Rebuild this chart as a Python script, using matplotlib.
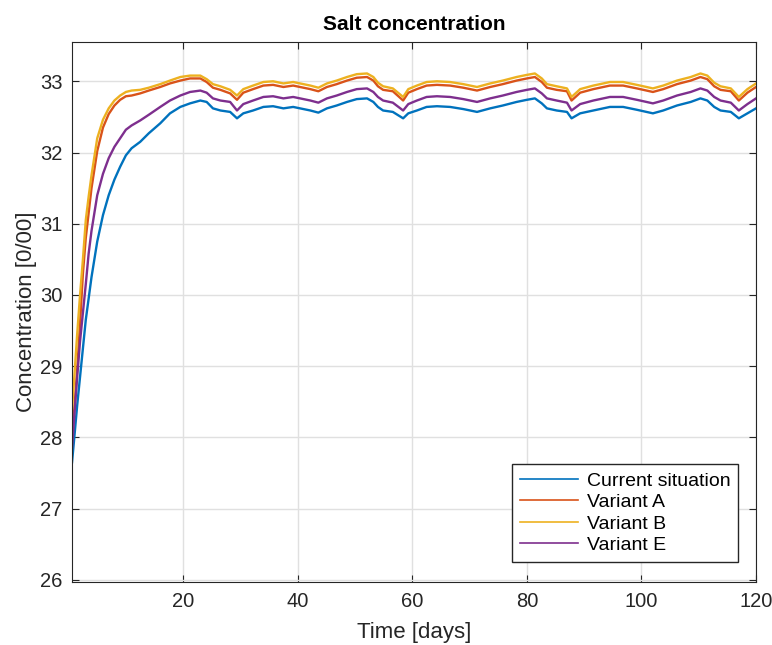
import matplotlib
matplotlib.use("Agg")
import matplotlib.pyplot as plt

# time axis [days]
days = [0.6, 1, 1.5, 2, 2.5, 3, 3.5, 4, 5, 6, 7, 8, 9, 10, 11,
        12.5, 14, 16, 17.7, 19.5, 21.2, 23, 24.1, 25.2, 26.5, 28.2, 29.4,
        30.5, 32.2, 34, 35.7, 37.5, 39.2, 40.4, 42.2, 43.6, 45.1, 46.8, 48.6,
        50.3, 52.1, 53.2, 54, 54.9, 56.6, 58.4, 59.3, 60.8, 62.5, 64.3, 66.6,
        68.9, 71.3, 73.6, 75.8, 78.2, 80, 81.4, 82.6, 83.5, 85.2, 87, 87.8,
        89.3, 91.6, 94.5, 96.8, 99.2, 102, 103.8, 106.2, 108.6, 110.3, 111.5,
        112.7, 113.8, 115.6, 117, 118.5, 120]

# salt concentration [0/00]
current = [27.65, 28.0, 28.45, 28.85, 29.25, 29.65, 29.95, 30.25, 30.75, 31.12,
           31.4, 31.62, 31.8, 31.96, 32.06, 32.15, 32.27, 32.41, 32.55, 32.64,
           32.69, 32.73, 32.71, 32.62, 32.59, 32.57, 32.48,
           32.55, 32.59, 32.64, 32.65, 32.62, 32.64, 32.62, 32.59, 32.56, 32.62,
           32.66, 32.71, 32.75, 32.76, 32.71, 32.64, 32.59, 32.57, 32.48, 32.55,
           32.59, 32.64, 32.65, 32.64, 32.61, 32.57, 32.62, 32.66, 32.71, 32.74,
           32.76, 32.69, 32.62, 32.59, 32.57, 32.48, 32.55, 32.59, 32.64, 32.64,
           32.60, 32.55, 32.59, 32.66, 32.71, 32.76, 32.73, 32.64, 32.59, 32.57,
           32.48, 32.55, 32.62]
variant_a = [28.1, 28.4, 28.95, 29.6, 30.3, 30.8, 31.15, 31.5, 32.02, 32.35,
             32.54, 32.66, 32.74, 32.79, 32.8, 32.83, 32.87, 32.92, 32.97, 33.01,
             33.04, 33.04, 32.99, 32.91, 32.88, 32.83, 32.74,
             32.84, 32.89, 32.94, 32.95, 32.92, 32.94, 32.92, 32.89, 32.86, 32.92,
             32.96, 33.01, 33.05, 33.06, 33.01, 32.93, 32.88, 32.86, 32.73, 32.84,
             32.89, 32.94, 32.95, 32.94, 32.91, 32.87, 32.92, 32.96, 33.01, 33.04,
             33.06, 32.99, 32.91, 32.88, 32.86, 32.73, 32.84, 32.89, 32.94, 32.94,
             32.90, 32.85, 32.89, 32.96, 33.01, 33.06, 33.03, 32.93, 32.88, 32.86,
             32.73, 32.84, 32.92]
variant_b = [28.4, 28.85, 29.45, 30.0, 30.5, 31.05, 31.38, 31.68, 32.2, 32.46,
             32.62, 32.73, 32.8, 32.85, 32.87, 32.88, 32.91, 32.96, 33.01, 33.06,
             33.08, 33.08, 33.03, 32.96, 32.93, 32.88, 32.8,
             32.89, 32.94, 32.99, 33.00, 32.97, 32.99, 32.97, 32.94, 32.91, 32.97,
             33.01, 33.06, 33.10, 33.11, 33.06, 32.98, 32.93, 32.90, 32.78, 32.89,
             32.94, 32.99, 33.00, 32.99, 32.96, 32.92, 32.97, 33.01, 33.06, 33.09,
             33.11, 33.04, 32.96, 32.93, 32.90, 32.78, 32.89, 32.94, 32.99, 32.99,
             32.95, 32.90, 32.94, 33.01, 33.06, 33.11, 33.08, 32.98, 32.93, 32.90,
             32.78, 32.89, 32.97]
variant_e = [27.85, 28.3, 28.85, 29.35, 29.75, 30.15, 30.58, 30.9, 31.4, 31.7,
             31.92, 32.08, 32.2, 32.32, 32.38, 32.45, 32.53, 32.64, 32.73, 32.8,
             32.85, 32.87, 32.84, 32.76, 32.73, 32.71, 32.59,
             32.68, 32.73, 32.78, 32.79, 32.76, 32.78, 32.76, 32.73, 32.70, 32.76,
             32.80, 32.85, 32.89, 32.90, 32.85, 32.78, 32.73, 32.70, 32.59, 32.68,
             32.73, 32.78, 32.79, 32.78, 32.75, 32.71, 32.76, 32.80, 32.85, 32.88,
             32.90, 32.83, 32.76, 32.73, 32.70, 32.59, 32.68, 32.73, 32.78, 32.78,
             32.74, 32.69, 32.73, 32.80, 32.85, 32.90, 32.87, 32.78, 32.73, 32.70,
             32.59, 32.68, 32.76]

names = ["Current situation", "Variant A", "Variant B", "Variant E"]
colors = ["#0072BD", "#D95319", "#EDB120", "#7E2F8E"]
x_ticks = [20, 40, 60, 80, 100, 120]
y_ticks = [26, 27, 28, 29, 30, 31, 32, 33]

plt.rcParams['font.family'] = ['Liberation Sans', 'DejaVu Sans']

fig = plt.figure(figsize=(7.72, 6.45), dpi=100)
ax = fig.add_axes([0.0933, 0.0977, 0.886, 0.837])

for series, name, c in zip([current, variant_a, variant_b, variant_e], names, colors):
    ax.plot(days, series, color=c, lw=1.7, label=name)

ax.set_xlim(0.6, 120)
ax.set_ylim(25.97, 33.55)
ax.set_xticks(x_ticks)
ax.set_yticks(y_ticks)
ax.grid(True, color="#e0e0e0", lw=1.0)
ax.set_axisbelow(True)
ax.tick_params(direction="in", top=True, right=True, labelsize=14.5,
               colors="#262626", length=5, pad=7)
for s in ax.spines.values():
    s.set_color("#262626")

ax.set_title("Salt concentration", fontsize=15, fontweight="bold", pad=9)
ax.set_xlabel("Time [days]", fontsize=16, color="#262626", labelpad=8)
ax.set_ylabel("Concentration [0/00]", fontsize=16, color="#262626", labelpad=2)

leg = ax.legend(loc="lower right", bbox_to_anchor=(0.974, 0.037), borderaxespad=0,
                fontsize=14, fancybox=False, framealpha=1, edgecolor="#262626",
                handlelength=3.0, handletextpad=0.45, labelspacing=0.2, borderpad=0.4)
leg.get_frame().set_linewidth(1.0)
for line in leg.get_lines():
    line.set_linewidth(1.2)

fig.savefig("out.png", dpi=100)
